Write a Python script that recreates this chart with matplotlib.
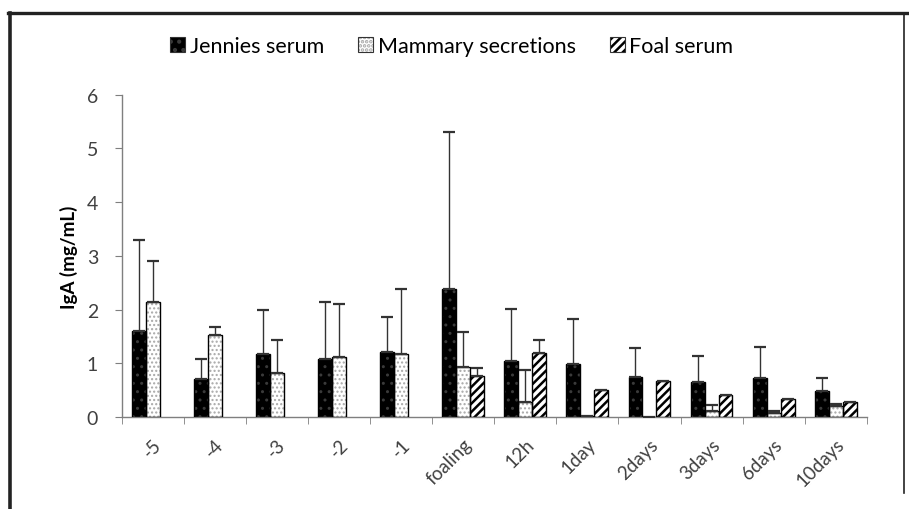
import numpy as np
import matplotlib
matplotlib.use("Agg")
import matplotlib.pyplot as plt
from matplotlib.lines import Line2D
from matplotlib.patches import Patch

plt.rcParams['font.family'] = ['Lato', 'DejaVu Sans']

# data
labels = ['-5', '-4', '-3', '-2', '-1', 'foaling', '12h', '1day', '2days',
          '3days', '6days', '10days']
jennies = [1.61, 0.71, 1.17, 1.08, 1.22, 2.38, 1.05, 0.99, 0.74, 0.65, 0.72, 0.48]
jennies_top = [3.30, 1.08, 1.99, 2.15, 1.87, 5.31, 2.02, 1.82, 1.29, 1.14, 1.31, 0.73]
mammary = [2.15, 1.53, 0.82, 1.12, 1.18, 0.93, 0.28, 0.03, 0.0, 0.12, 0.08, 0.20]
mammary_top = [2.90, 1.68, 1.43, 2.10, 2.39, 1.59, 0.88, np.nan, np.nan, 0.22, 0.12, 0.25]
foal = [np.nan, np.nan, np.nan, np.nan, np.nan, 0.76, 1.19, 0.50, 0.68, 0.41, 0.33, 0.29]
foal_top = [np.nan, np.nan, np.nan, np.nan, np.nan, 0.92, 1.44, np.nan, np.nan, np.nan, np.nan, np.nan]

fig = plt.figure(figsize=(9.09, 5.10), dpi=100)
ax = fig.add_axes([0.134, 0.180, 0.8195, 0.6325])

x = np.arange(len(labels))
w = 0.225
grey = '#7f7f7f'
txt = '#404040'


def draw(vals, tops, off, face, hcol, hatch):
    vals = np.array(vals, dtype=float)
    tops = np.array(tops, dtype=float)
    ax.bar(x + off, vals, w, color=face, edgecolor=hcol, hatch=hatch, linewidth=0, zorder=2)
    ax.bar(x + off, vals, w, fill=False, edgecolor='black', linewidth=1, zorder=3)
    up = tops - vals
    ax.errorbar(x + off, vals, yerr=[np.zeros_like(up), up], fmt='none',
                ecolor='#333333', elinewidth=1, capsize=4.5, capthick=1.6, zorder=4)
    fillp = Patch(facecolor=face, edgecolor=hcol, hatch=hatch, linewidth=0)
    outline = Patch(fill=False, edgecolor='#333333', linewidth=0.8)
    return (fillp, outline)


plt.rcParams['hatch.linewidth'] = 1.0
h1 = draw(jennies, jennies_top, -w, 'black', '#3a3a3a', '..')
h2 = draw(mammary, mammary_top, 0, 'white', '#a8a8a8', '....')
plt.rcParams['hatch.linewidth'] = 1.8
h3 = draw(foal, foal_top, w, 'white', 'black', '////')

ax.set_xlim(-0.5, len(labels) - 0.5)
ax.set_ylim(0, 6)
ax.set_yticks(range(0, 7))
ax.set_xticks(x)
ax.set_xticklabels(labels, rotation=45, ha='right', rotation_mode='anchor')
ax.set_xticks(np.arange(-0.5, len(labels)), minor=True)
ax.tick_params(axis='x', which='major', length=0, pad=13, labelsize=13.5, labelcolor=txt)
ax.tick_params(axis='x', which='minor', length=5, color=grey, direction='out')
ax.tick_params(axis='y', length=5, color=grey, pad=12, labelsize=14, labelcolor=txt)
for s in ['top', 'right']:
    ax.spines[s].set_visible(False)
for s in ['left', 'bottom']:
    ax.spines[s].set_color(grey)
    ax.spines[s].set_linewidth(1)
ax.set_ylabel('IgA (mg/mL)', fontsize=13.5, fontweight='bold', labelpad=6)

fig.legend([h1, h2, h3], ['Jennies serum', 'Mammary secretions', 'Foal serum'],
           loc='center', bbox_to_anchor=(0.497, 0.908), ncol=3, frameon=False,
           fontsize=15.5, handlelength=0.7, handleheight=0.7, handletextpad=0.2,
           columnspacing=1.6, labelcolor='black')

# outer frame
fig.add_artist(Line2D([8 / 909, 1], [1 - 13.5 / 510] * 2, color='#222222', lw=2.4))
fig.add_artist(Line2D([10 / 909] * 2, [0, 1 - 13.5 / 510], color='#222222', lw=2.6))
fig.add_artist(Line2D([904 / 909] * 2, [1 - 494 / 510, 1 - 13.5 / 510], color='#222222', lw=1.2))

fig.savefig('out.png', dpi=100)
